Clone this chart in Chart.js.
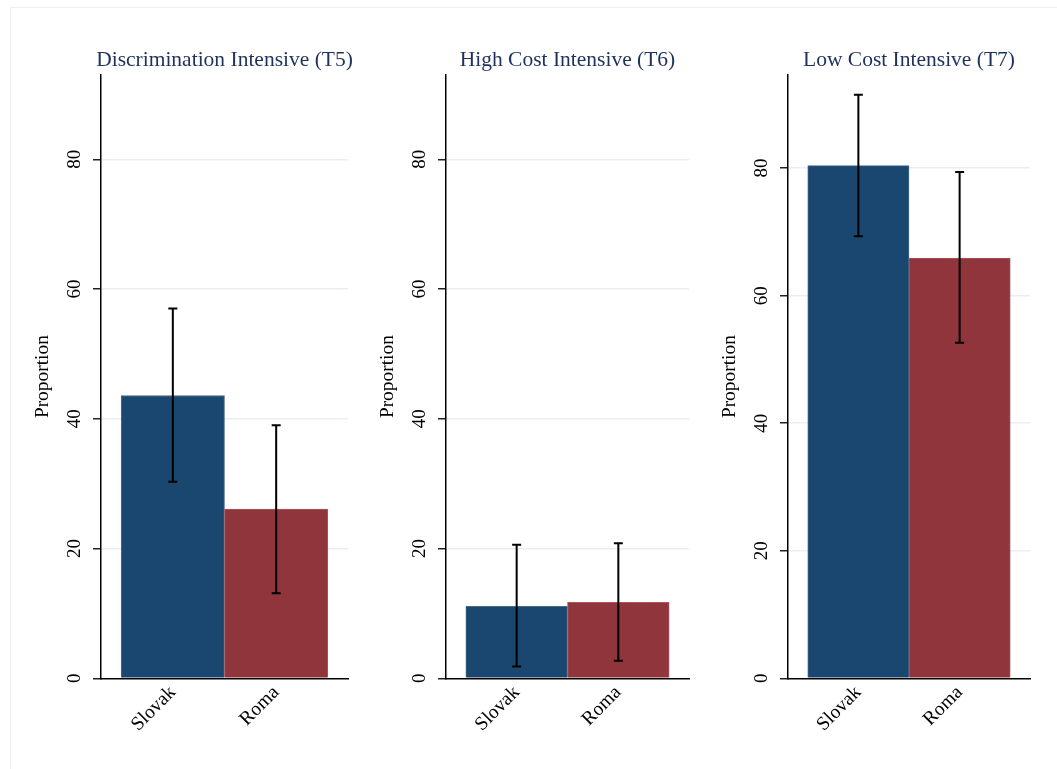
<!DOCTYPE html>
<html>
<head>
<meta charset="utf-8">
<script src="https://cdn.jsdelivr.net/npm/chart.js@4"></script>
<style>
  body{margin:0;background:#fff;}
  #wrap{position:relative;width:1057px;height:769px;overflow:hidden;background:#fff;}
  #frame{position:absolute;left:10px;top:7px;width:1100px;height:800px;border:1px solid #eceef1;}
  canvas{position:absolute;top:0;}
  .ptitle{position:absolute;width:400px;text-align:center;white-space:nowrap;
    font:21.5px/27px "Liberation Serif",serif;color:#1e325c;}
</style>
</head>
<body>
<div id="wrap">
  <div id="frame"></div>
  <canvas id="c0" width="340" height="769" style="left:20px"></canvas>
  <canvas id="c1" width="336" height="769" style="left:365px"></canvas>
  <canvas id="c2" width="335" height="769" style="left:707px"></canvas>
</div>
<script>
// data
var categories = ['Slovak', 'Roma'];
var panelTitles = ['Discrimination Intensive (T5)', 'High Cost Intensive (T6)', 'Low Cost Intensive (T7)'];
var meanT5 = [43.6, 26.1], lowT5 = [30.3, 13.1], highT5 = [57.0, 39.0];
var meanT6 = [11.1, 11.7], lowT6 = [1.8, 2.7], highT6 = [20.6, 20.8];
var meanT7 = [80.4, 65.9], lowT7 = [69.3, 52.6], highT7 = [91.5, 79.4];
var yMax = [93, 93, 94.6];
var yTicks = [0, 20, 40, 60, 80];
var yTitle = 'Proportion';

var barColors = ['#1a476f', '#90353b'];
var barEdges = ['#48698a', '#a85a60'];
var serif = 'Liberation Serif';
Chart.defaults.font.family = serif;

var errorBars = {
  id: 'errorBars',
  afterDatasetsDraw: function(chart, args, opts){
    var x = chart.scales.x, y = chart.scales.y, ctx = chart.ctx;
    ctx.save();
    ctx.strokeStyle = '#000'; ctx.lineWidth = 2;
    opts.lo.forEach(function(lo, i){
      var px = x.getPixelForValue(i), y0 = y.getPixelForValue(lo), y1 = y.getPixelForValue(opts.hi[i]);
      ctx.beginPath();
      ctx.moveTo(px, y0); ctx.lineTo(px, y1);
      ctx.moveTo(px - 4.5, y0); ctx.lineTo(px + 4.5, y0);
      ctx.moveTo(px - 4.5, y1); ctx.lineTo(px + 4.5, y1);
      ctx.stroke();
    });
    ctx.restore();
  }
};

function makePanel(id, k, means, lo, hi){
  var canvas = document.getElementById(id);
  var chart = new Chart(canvas, {
    type: 'bar',
    data: { datasets: [{
      data: means.map(function(v, i){ return {x: i, y: v}; }),
      backgroundColor: barColors, borderColor: barEdges, borderWidth: 1,
      barPercentage: 1, categoryPercentage: 1
    }]},
    plugins: [errorBars],
    options: {
      responsive: false, animation: false,
      layout: { padding: { top: 75, left: 0, right: 12, bottom: 0 } },
      plugins: {
        legend: { display: false }, tooltip: { enabled: false },
        errorBars: { lo: lo, hi: hi }
      },
      scales: {
        x: {
          type: 'linear', min: -0.695, max: 1.695, offset: false, bounds: 'data',
          afterBuildTicks: function(s){ s.ticks = categories.map(function(c, i){ return {value: i}; }); },
          afterFit: function(s){ s.height = 90.7; },
          ticks: { callback: function(v){ return categories[v]; }, minRotation: 45, maxRotation: 45,
            autoSkip: false, padding: 3, color: '#000', font: { size: 19.5 } },
          grid: { display: false, drawTicks: false, offset: false },
          border: { color: '#000', width: 1.5 }
        },
        y: {
          min: 0, max: yMax[k],
          afterBuildTicks: function(s){ s.ticks = yTicks.map(function(v){ return {value: v}; }); },
          afterFit: function(s){ s.width = 81; },
          ticks: { minRotation: 90, maxRotation: 90, crossAlign: 'center', padding: 8.5,
            color: '#000', font: { size: 19 } },
          grid: { color: function(c){ return c.tick && c.tick.value === 0 ? 'rgba(0,0,0,0)' : '#e8eff3'; },
            lineWidth: 1.5, tickLength: 8, tickColor: '#222' },
          border: { color: '#000', width: 1.5 },
          title: { display: true, text: yTitle, color: '#000',
            font: { size: 19.4, lineHeight: 1.2 }, padding: { top: 11, bottom: 0 } }
        }
      }
    }
  });
  // panel title, centred over the plot area like the original
  var t = document.createElement('div');
  t.className = 'ptitle';
  t.textContent = panelTitles[k];
  var mid = canvas.offsetLeft + (chart.chartArea.left + chart.chartArea.right) / 2;
  t.style.left = (mid - 200) + 'px';
  t.style.top = '45.5px';
  document.getElementById('wrap').appendChild(t);
  return chart;
}

makePanel('c0', 0, meanT5, lowT5, highT5);
makePanel('c1', 1, meanT6, lowT6, highT6);
makePanel('c2', 2, meanT7, lowT7, highT7);
</script>
</body>
</html>
